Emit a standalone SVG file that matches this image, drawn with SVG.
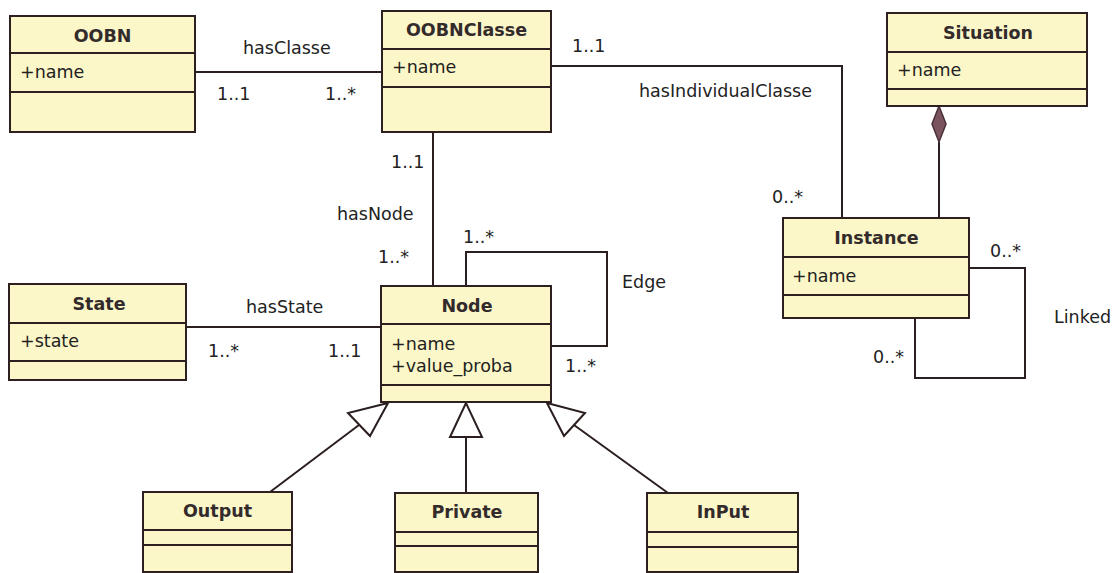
<svg xmlns="http://www.w3.org/2000/svg" width="1115" height="573" viewBox="0 0 1115 573">
  <defs>
    <style>
      .box { fill: #fcf7c8; stroke: #2e2020; stroke-width: 2; }
      .div { stroke: #2e2020; stroke-width: 2; }
      .title { font-family: "DejaVu Sans", Verdana, sans-serif; font-weight: bold; font-size: 17.5px; fill: #332b2b; text-anchor: middle; }
      .attr { font-family: "DejaVu Sans", Verdana, sans-serif; font-size: 17.5px; fill: #222; }
      .lbl { font-family: "DejaVu Sans", Verdana, sans-serif; font-size: 17.5px; fill: #222; }
      .conn { fill: none; stroke: #2a1e1e; stroke-width: 2; }
      .gen { fill: #ffffff; stroke: #2a1e1e; stroke-width: 2; stroke-linejoin: miter; }
      .comp { fill: #7a5560; stroke: #4a3038; stroke-width: 1.5; }
    </style>
  </defs>
  <rect width="1115" height="573" fill="#ffffff"/>

  <!-- associations, self-loops, composition and generalizations -->
  <g id="connectors">
    <!-- hasClasse -->
    <line class="conn" x1="195" y1="72" x2="382" y2="72"/>
    <!-- hasIndividualClasse -->
    <polyline class="conn" points="551,66 842,66 842,218"/>
    <!-- hasNode -->
    <line class="conn" x1="433" y1="132" x2="433" y2="286"/>
    <!-- hasState -->
    <line class="conn" x1="186" y1="327" x2="381" y2="327"/>
    <!-- Edge (self association on Node) -->
    <polyline class="conn" points="466,286 466,252 607,252 607,346 551,346"/>
    <!-- Linked (self association on Instance) -->
    <polyline class="conn" points="969,268 1025,268 1025,378 915,378 915,318"/>
    <!-- Situation composed of Instance -->
    <line class="conn" x1="939" y1="142" x2="939" y2="218"/>
    <polygon class="comp" points="939,106 946,124 939,142 932,124"/>
    <!-- generalizations toward Node -->
    <line class="conn" x1="270" y1="492" x2="359" y2="425"/>
    <polygon class="gen" points="388,403 348,413 370,436"/>
    <line class="conn" x1="466" y1="437" x2="466" y2="493"/>
    <polygon class="gen" points="466,403 450,437 482,437"/>
    <line class="conn" x1="668" y1="493" x2="574" y2="425"/>
    <polygon class="gen" points="547,403 585,413 564,436"/>

    <!-- role labels and multiplicities -->
    <text class="lbl" x="243" y="54">hasClasse</text>
    <text class="lbl" x="217" y="100">1..1</text>
    <text class="lbl" x="325" y="100">1..*</text>
    <text class="lbl" x="572" y="52">1..1</text>
    <text class="lbl" x="639" y="97">hasIndividualClasse</text>
    <text class="lbl" x="772" y="203">0..*</text>
    <text class="lbl" x="391" y="168">1..1</text>
    <text class="lbl" x="337" y="220">hasNode</text>
    <text class="lbl" x="378" y="263">1..*</text>
    <text class="lbl" x="463" y="243">1..*</text>
    <text class="lbl" x="622" y="288">Edge</text>
    <text class="lbl" x="565" y="372">1..*</text>
    <text class="lbl" x="246" y="313">hasState</text>
    <text class="lbl" x="208" y="357">1..*</text>
    <text class="lbl" x="328" y="357">1..1</text>
    <text class="lbl" x="990" y="257">0..*</text>
    <text class="lbl" x="1054" y="323">Linked</text>
    <text class="lbl" x="873" y="363">0..*</text>
  </g>

  <g id="oobn">
    <rect class="box" x="10" y="16" width="185" height="116"/>
    <line class="div" x1="10" y1="53" x2="195" y2="53"/>
    <line class="div" x1="10" y1="92" x2="195" y2="92"/>
    <text class="title" x="102.5" y="42">OOBN</text>
    <text class="attr" x="20" y="78">+name</text>
  </g>

  <g id="oobnclasse">
    <rect class="box" x="382" y="11" width="169" height="121"/>
    <line class="div" x1="382" y1="49" x2="551" y2="49"/>
    <line class="div" x1="382" y1="87" x2="551" y2="87"/>
    <text class="title" x="466.5" y="36">OOBNClasse</text>
    <text class="attr" x="392" y="73">+name</text>
  </g>

  <g id="situation">
    <rect class="box" x="887" y="13" width="200" height="93"/>
    <line class="div" x1="887" y1="52" x2="1087" y2="52"/>
    <line class="div" x1="887" y1="89" x2="1087" y2="89"/>
    <text class="title" x="988" y="39">Situation</text>
    <text class="attr" x="897" y="76">+name</text>
  </g>

  <g id="instance">
    <rect class="box" x="783" y="218" width="186" height="100"/>
    <line class="div" x1="783" y1="257" x2="969" y2="257"/>
    <line class="div" x1="783" y1="295" x2="969" y2="295"/>
    <text class="title" x="876.5" y="244">Instance</text>
    <text class="attr" x="792" y="282">+name</text>
  </g>

  <g id="state">
    <rect class="box" x="9" y="284" width="177" height="96"/>
    <line class="div" x1="9" y1="323" x2="186" y2="323"/>
    <line class="div" x1="9" y1="361" x2="186" y2="361"/>
    <text class="title" x="99" y="310">State</text>
    <text class="attr" x="20" y="347">+state</text>
  </g>

  <g id="node">
    <rect class="box" x="381" y="286" width="170" height="116"/>
    <line class="div" x1="381" y1="324" x2="551" y2="324"/>
    <line class="div" x1="381" y1="385" x2="551" y2="385"/>
    <text class="title" x="467" y="312">Node</text>
    <text class="attr" x="391" y="350">+name</text>
    <text class="attr" x="391" y="372">+value_proba</text>
  </g>

  <g id="output">
    <rect class="box" x="143" y="492" width="149" height="80"/>
    <line class="div" x1="143" y1="530" x2="292" y2="530"/>
    <line class="div" x1="143" y1="545" x2="292" y2="545"/>
    <text class="title" x="217.5" y="517">Output</text>
  </g>

  <g id="private">
    <rect class="box" x="395" y="493" width="143" height="79"/>
    <line class="div" x1="395" y1="532" x2="538" y2="532"/>
    <line class="div" x1="395" y1="546" x2="538" y2="546"/>
    <text class="title" x="467" y="518">Private</text>
  </g>

  <g id="input">
    <rect class="box" x="647" y="493" width="151" height="79"/>
    <line class="div" x1="647" y1="532" x2="798" y2="532"/>
    <line class="div" x1="647" y1="547" x2="798" y2="547"/>
    <text class="title" x="723" y="518">InPut</text>
  </g>
</svg>
